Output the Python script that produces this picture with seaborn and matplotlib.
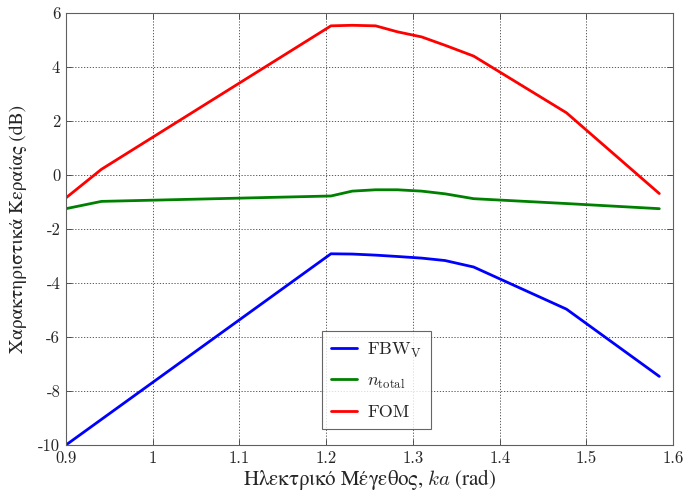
import numpy as np
import pandas as pd
import matplotlib
matplotlib.use('Agg')
import matplotlib.pyplot as plt
import seaborn as sns

# Data
ka = [0.900, 0.941, 1.2055, 1.230, 1.257, 1.282, 1.310, 1.337, 1.370, 1.477, 1.584]
fbw_v = [-10.0, -9.05, -2.92, -2.93, -2.97, -3.02, -3.08, -3.17, -3.41, -4.97, -7.46]
n_total = [-1.25, -0.98, -0.78, -0.60, -0.55, -0.55, -0.60, -0.70, -0.88, -1.06, -1.25]
fom = [-0.85, 0.21, 5.52, 5.54, 5.52, 5.30, 5.11, 4.80, 4.40, 2.30, -0.69]

x_ticks = [0.9, 1.0, 1.1, 1.2, 1.3, 1.4, 1.5, 1.6]
x_tick_labels = ['0.9', '1', '1.1', '1.2', '1.3', '1.4', '1.5', '1.6']
y_ticks = [-10, -8, -6, -4, -2, 0, 2, 4, 6]

sns.set_style('ticks')
plt.rcParams['font.family'] = ['cmr10', 'STIXGeneral']
plt.rcParams['mathtext.fontset'] = 'cm'
plt.rcParams['axes.unicode_minus'] = False

df = pd.DataFrame({'ka': ka, 'fbw': fbw_v, 'n': n_total, 'fom': fom})

fig = plt.figure(figsize=(6.94, 4.95), dpi=100)
ax = fig.add_axes([0.095, 0.101, 0.875, 0.873])

sns.lineplot(data=df, x='ka', y='fbw', color='#0000ff', lw=2, sort=False,
             label=r'FBW$_{\rm V}$', ax=ax)
sns.lineplot(data=df, x='ka', y='n', color='#008000', lw=2, sort=False,
             label=r'$n_{\rm total}$', ax=ax)
sns.lineplot(data=df, x='ka', y='fom', color='#ff0000', lw=2, sort=False,
             label='FOM', ax=ax)

ax.set_xlim(0.9, 1.6)
ax.set_ylim(-10, 6)
ax.set_xticks(x_ticks)
ax.set_xticklabels(x_tick_labels)
ax.set_yticks(y_ticks)
ax.set_yticklabels([str(v) for v in y_ticks])
ax.tick_params(direction='in', top=True, right=True, labelsize=12, length=4,
               width=0.6, color='#404040', pad=4)
for s in ax.spines.values():
    s.set_color('#606060')
    s.set_linewidth(0.8)
ax.grid(True, linestyle=(0, (1.5, 2)), color='#404040', linewidth=0.6)

ax.set_xlabel(r'Ηλεκτρικό Μέγεθος, $ka$ (rad)', fontsize=15, labelpad=1,
              family='STIXGeneral')
ax.set_ylabel('Χαρακτηριστικά Κεραίας (dB)', fontsize=14, labelpad=8,
              family='STIXGeneral')

leg = ax.legend(loc='center', bbox_to_anchor=(0.512, 0.15), fontsize=13,
                frameon=True, fancybox=False, edgecolor='#404040',
                handlelength=1.4, handletextpad=0.6, labelspacing=0.75,
                borderpad=0.5)
leg.get_frame().set_linewidth(0.8)

fig.savefig('out.png', dpi=100)
